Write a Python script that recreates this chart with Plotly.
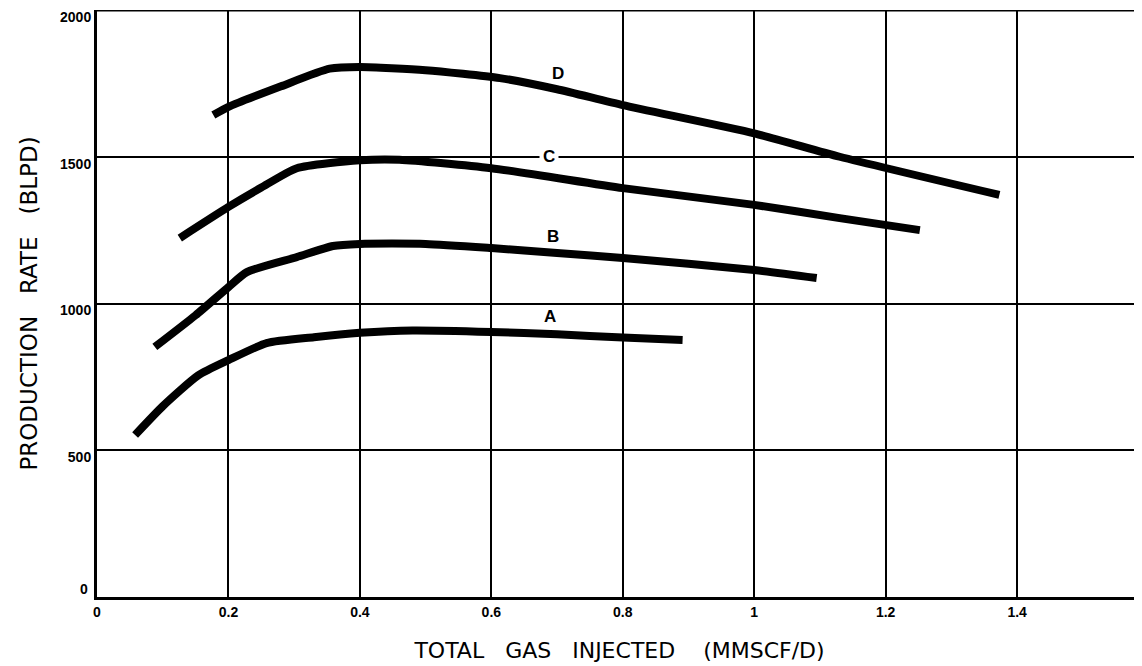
import plotly.graph_objects as go

# Curve data (x: MMSCF/D, y: BLPD)
a_x = [0.058, 0.100, 0.154, 0.200, 0.258, 0.330, 0.400, 0.480, 0.600, 0.700, 0.800, 0.891]
a_y = [552, 650, 755, 807, 865, 885, 900, 908, 903, 895, 884, 876]

b_x = [0.088, 0.150, 0.200, 0.228, 0.304, 0.359, 0.400, 0.500, 0.600, 0.700, 0.800, 1.000, 1.095]
b_y = [852, 960, 1056, 1107, 1158, 1196, 1203, 1203, 1189, 1172, 1155, 1114, 1087]

c_x = [0.126, 0.200, 0.250, 0.304, 0.400, 0.460, 0.600, 0.800, 1.000, 1.130, 1.252]
c_y = [1223, 1329, 1395, 1461, 1488, 1490, 1461, 1393, 1336, 1291, 1250]

d_x = [0.177, 0.200, 0.280, 0.354, 0.400, 0.500, 0.613, 0.700, 0.800, 1.000, 1.130, 1.373]
d_y = [1642, 1670, 1740, 1800, 1806, 1795, 1768, 1730, 1676, 1580, 1500, 1370]

curve_names = ["A", "B", "C", "D"]
label_x = [0.690, 0.694, 0.687, 0.701]
label_y = [957, 1230, 1500, 1785]

x_ticks = [0, 0.2, 0.4, 0.6, 0.8, 1.0, 1.2, 1.4]
x_tick_text = ["0", "0.2", "0.4", "0.6", "0.8", "1", "1.2", "1.4"]
y_ticks = [500, 1000, 1500, 2000]
y_tick_text = ["500", "1000", "1500", "2000"]
y_zero_label = "0"

fig = go.Figure()
for xs, ys, nm in zip([a_x, b_x, c_x, d_x], [a_y, b_y, c_y, d_y], curve_names):
    fig.add_trace(go.Scatter(x=xs, y=ys, mode="lines", name=nm,
                             line=dict(color="black", width=8, shape="spline", smoothing=0.6),
                             showlegend=False, hoverinfo="skip"))

for nm, lx, ly in zip(curve_names, label_x, label_y):
    fig.add_annotation(x=lx, y=ly, text=f"<b>{nm}</b>", showarrow=False,
                       font=dict(family="Liberation Sans, Arial", size=17, color="black"),
                       bgcolor="white" if nm == "C" else "rgba(0,0,0,0)",
                       borderpad=3)

font_ticks = dict(family="Liberation Sans, Arial", size=14, color="black")

# y-axis "0" label sits just above the x axis in the original
fig.add_annotation(xref="paper", yref="y", x=0, y=0, text=f"<b>{y_zero_label}</b>",
                   showarrow=False, xanchor="right", yanchor="bottom",
                   xshift=-7, yshift=-2, font=font_ticks)

# top border line
fig.add_shape(type="line", xref="paper", yref="y", x0=0, x1=1, y0=2000, y1=2000,
              line=dict(color="black", width=3))

fig.update_xaxes(range=[0, 1.59], tickvals=x_ticks,
                 ticktext=[f"<b>{t}</b>" for t in x_tick_text],
                 showgrid=True, gridcolor="black", gridwidth=2,
                 showline=True, linecolor="black", linewidth=3,
                 zeroline=False, ticks="", tickfont=font_ticks,
                 title=dict(text="TOTAL   GAS   INJECTED    (MMSCF/D)",
                            font=dict(family="DejaVu Sans", size=22, color="black"),
                            standoff=24))
fig.update_yaxes(range=[0, 2000], tickvals=y_ticks,
                 ticktext=[f"<b>{t}</b>" for t in y_tick_text],
                 showgrid=True, gridcolor="black", gridwidth=1.5,
                 showline=True, linecolor="black", linewidth=3,
                 zeroline=False, ticks="", tickfont=font_ticks,
                 ticklabelshift=7,
                 title=dict(text="PRODUCTION   RATE   (BLPD)",
                            font=dict(family="DejaVu Sans", size=23, color="black"),
                            standoff=16))

# the page body has an 8px margin, so offsets are compensated here
fig.update_layout(width=1134, height=658,
                  margin=dict(l=89, r=0, t=2, b=69),
                  plot_bgcolor="white", paper_bgcolor="white")

fig.write_html("out.html")
